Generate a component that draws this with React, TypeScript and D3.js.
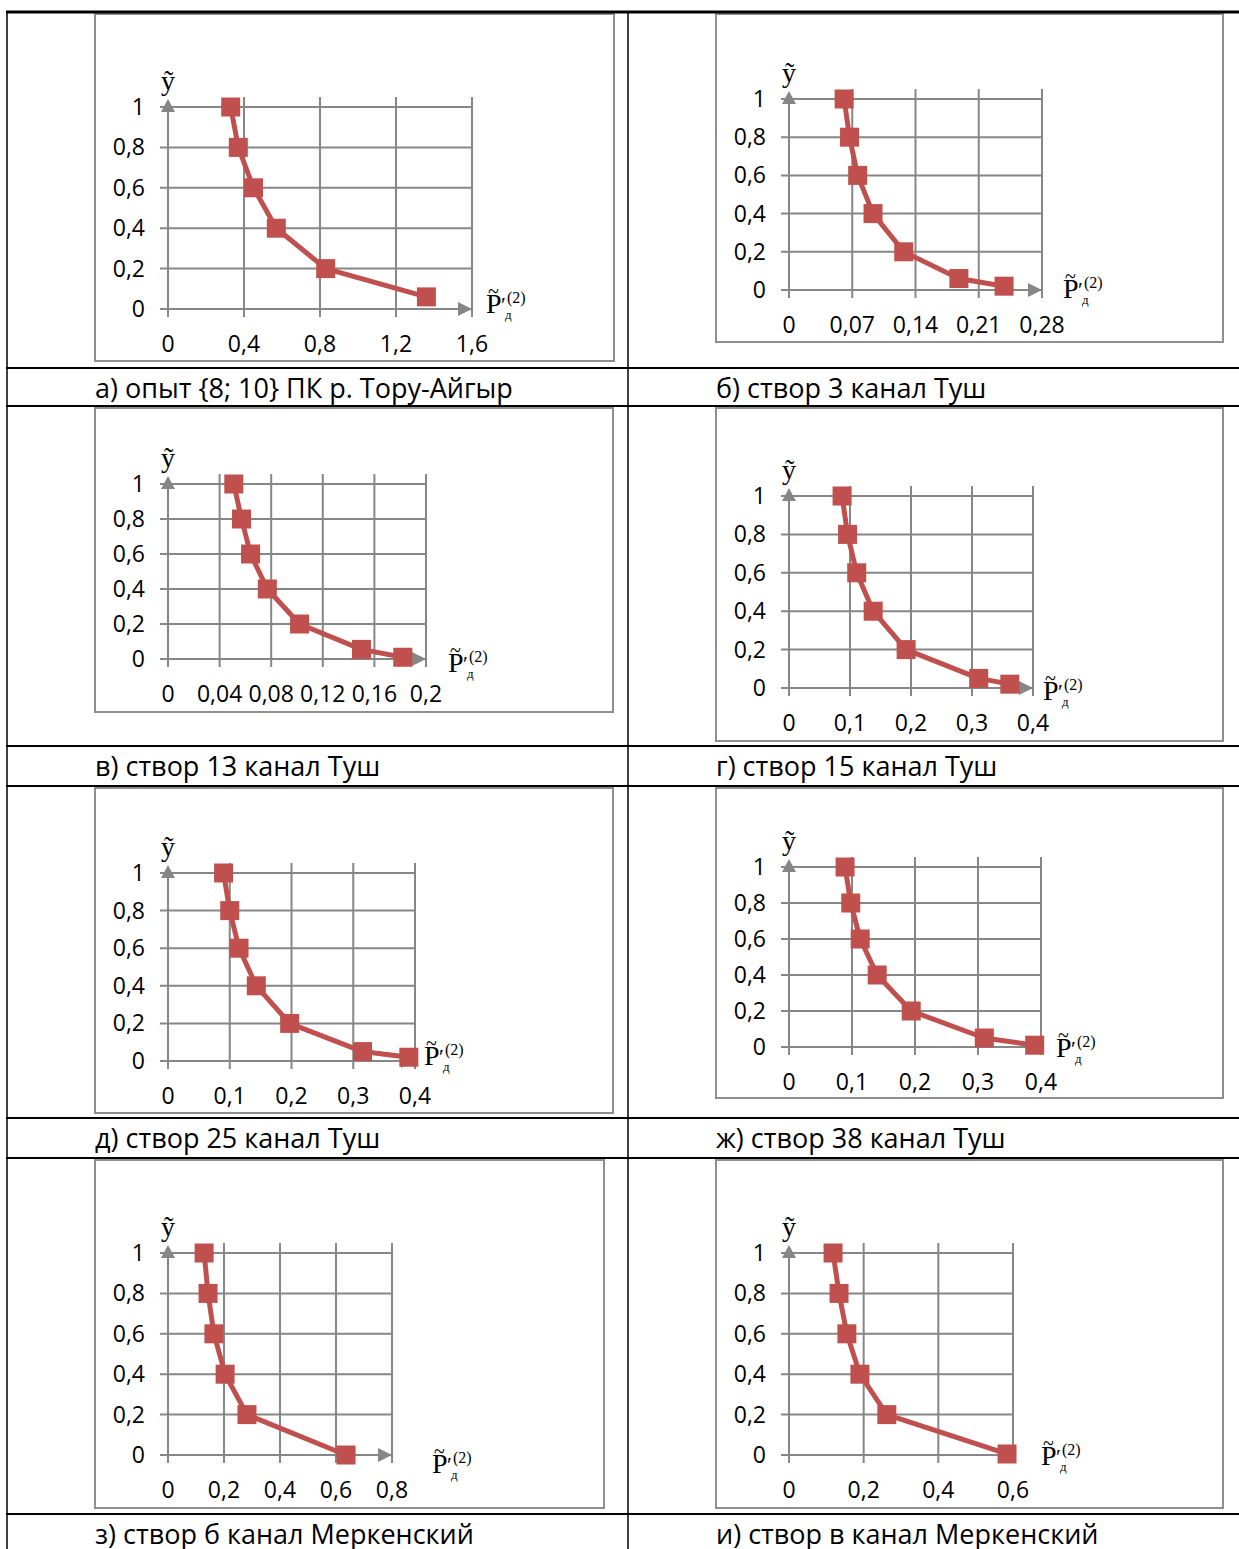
import React from 'react';
import * as d3 from 'd3';

const W = 1239;
const H = 1549;

const CAPTIONS = [
  'а) опыт {8; 10} ПК р. Тору-Айгыр',
  'б) створ 3 канал Туш',
  'в) створ 13 канал Туш',
  'г) створ 15 канал Туш',
  'д) створ 25 канал Туш',
  'ж) створ 38 канал Туш',
  'з) створ б канал Меркенский',
  'и) створ в канал Меркенский',
];

const Y_TICKS = [0, 0.2, 0.4, 0.6, 0.8, 1];

const X_TICKS_A = [0, 0.4, 0.8, 1.2, 1.6];
const X_TICKS_B = [0, 0.07, 0.14, 0.21, 0.28];
const X_TICKS_V = [0, 0.04, 0.08, 0.12, 0.16, 0.2];
const X_TICKS_G = [0, 0.1, 0.2, 0.3, 0.4];
const X_TICKS_D = [0, 0.1, 0.2, 0.3, 0.4];
const X_TICKS_ZH = [0, 0.1, 0.2, 0.3, 0.4];
const X_TICKS_Z = [0, 0.2, 0.4, 0.6, 0.8];
const X_TICKS_I = [0, 0.2, 0.4, 0.6];

// P'д(2) values and relative depth y
const P_A = [0.33, 0.37, 0.45, 0.57, 0.83, 1.36];
const Y_A = [1, 0.8, 0.6, 0.4, 0.2, 0.06];
const P_B = [0.061, 0.067, 0.076, 0.093, 0.127, 0.188, 0.238];
const Y_B = [1, 0.8, 0.6, 0.4, 0.2, 0.06, 0.02];
const P_V = [0.051, 0.057, 0.064, 0.077, 0.102, 0.15, 0.182];
const Y_V = [1, 0.8, 0.6, 0.4, 0.2, 0.055, 0.01];
const P_G = [0.087, 0.096, 0.111, 0.138, 0.192, 0.311, 0.362];
const Y_G = [1, 0.8, 0.6, 0.4, 0.2, 0.05, 0.02];
const P_D = [0.09, 0.1, 0.115, 0.143, 0.197, 0.315, 0.39];
const Y_D = [1, 0.8, 0.6, 0.4, 0.2, 0.05, 0.02];
const P_ZH = [0.089, 0.098, 0.113, 0.14, 0.194, 0.31, 0.39];
const Y_ZH = [1, 0.8, 0.6, 0.4, 0.2, 0.05, 0.01];
const P_Z = [0.129, 0.143, 0.164, 0.204, 0.282, 0.636];
const Y_Z = [1, 0.8, 0.6, 0.4, 0.2, 0];
const P_I = [0.118, 0.134, 0.155, 0.19, 0.262, 0.584];
const Y_I = [1, 0.8, 0.6, 0.4, 0.2, 0.005];

// layout of each cell: frame box, plot edges, offset of the P label
const LAYOUT = [
  { box: [95, 14, 519, 347], x0: 168, xr: 472, y1: 107, y0: 309, lab: [14, 4] },
  { box: [716, 14, 507, 328], x0: 789, xr: 1042, y1: 99, y0: 290, lab: [21, 8] },
  { box: [95, 408, 518, 304], x0: 168, xr: 426, y1: 484, y0: 659, lab: [22, 13] },
  { box: [716, 408, 507, 333], x0: 789, xr: 1033, y1: 496, y0: 688, lab: [10, 12] },
  { box: [95, 788, 518, 325], x0: 168, xr: 415, y1: 873, y0: 1061, lab: [9, 4] },
  { box: [716, 788, 507, 310], x0: 789, xr: 1041, y1: 867, y0: 1047, lab: [15, 10] },
  { box: [95, 1160, 509, 348], x0: 168, xr: 392, y1: 1253, y0: 1455, lab: [40, 18] },
  { box: [716, 1160, 507, 348], x0: 789, xr: 1013, y1: 1253, y0: 1455, lab: [28, 10] },
];

const SERIES = [
  { ticks: X_TICKS_A, xs: P_A, ys: Y_A },
  { ticks: X_TICKS_B, xs: P_B, ys: Y_B },
  { ticks: X_TICKS_V, xs: P_V, ys: Y_V },
  { ticks: X_TICKS_G, xs: P_G, ys: Y_G },
  { ticks: X_TICKS_D, xs: P_D, ys: Y_D },
  { ticks: X_TICKS_ZH, xs: P_ZH, ys: Y_ZH },
  { ticks: X_TICKS_Z, xs: P_Z, ys: Y_Z },
  { ticks: X_TICKS_I, xs: P_I, ys: Y_I },
];

const ROW_LINES = [368, 406, 746, 786, 1118, 1158, 1514];
const CAPTION_BASE = [398, 776, 1148, 1544];

const GRID = '#868686';
const RED = '#C0504D';
const SANS = '"Open Sans", sans-serif';
const SERIF = '"Liberation Serif", "Times New Roman", serif';

const fmt = (v: number) => String(v).replace('.', ',');

function Panel({ idx }: { idx: number }) {
  const L = LAYOUT[idx];
  const S = SERIES[idx];
  const xMax = S.ticks[S.ticks.length - 1];
  const x = d3.scaleLinear().domain([0, xMax]).range([L.x0, L.xr]);
  const y = d3.scaleLinear().domain([0, 1]).range([L.y0, L.y1]);
  const pts = S.xs.map((v, i) => [x(v), y(S.ys[i])] as [number, number]);
  const path = d3.line()(pts) || '';
  const [bx, by, bw, bh] = L.box;
  const lx = L.xr + L.lab[0];
  const ly = L.y0 + L.lab[1];
  const ms = 19;

  return (
    <g>
      <rect x={bx} y={by} width={bw} height={bh} fill="none" stroke="#8f8f8f" strokeWidth={2} />
      {/* horizontal grid */}
      {Y_TICKS.map((t) => (
        <line key={'h' + t} x1={L.x0 - 8} x2={L.xr} y1={y(t)} y2={y(t)} stroke={GRID} strokeWidth={2} />
      ))}
      {/* vertical grid */}
      {S.ticks.filter((t) => t > 0).map((t) => (
        <line key={'v' + t} x1={x(t)} x2={x(t)} y1={L.y1 - 10} y2={L.y0 + 8} stroke={GRID} strokeWidth={2} />
      ))}
      {/* axes with arrows */}
      <line x1={L.x0} x2={L.x0} y1={L.y0 + 8} y2={L.y1} stroke={GRID} strokeWidth={2} />
      <path d={`M${L.x0},${L.y1 - 8}L${L.x0 - 7},${L.y1 + 5}L${L.x0 + 7},${L.y1 + 5}Z`} fill={GRID} />
      <path d={`M${L.xr},${L.y0}L${L.xr - 14},${L.y0 - 7}L${L.xr - 14},${L.y0 + 7}Z`} fill={GRID} />
      {/* tick labels */}
      {Y_TICKS.map((t) => (
        <text key={'yl' + t} x={L.x0 - 23} y={y(t) + 8} textAnchor="end" fontFamily={SANS} fontSize={23} fill="#000">
          {fmt(t)}
        </text>
      ))}
      {S.ticks.map((t) => (
        <text key={'xl' + t} x={x(t)} y={L.y0 + 43} textAnchor="middle" fontFamily={SANS} fontSize={23} fill="#000">
          {fmt(t)}
        </text>
      ))}
      {/* series */}
      <path d={path} fill="none" stroke={RED} strokeWidth={5} strokeLinejoin="round" />
      {pts.map(([px, py], i) => (
        <rect key={'m' + i} x={px - ms / 2} y={py - ms / 2} width={ms} height={ms} fill={RED} />
      ))}
      {/* axis titles */}
      <text x={L.x0} y={L.y1 - 17} textAnchor="middle" fontFamily={SERIF} fontSize={28} fill="#000">ỹ</text>
      <text fontFamily={SERIF} fill="#000">
        <tspan x={lx} y={ly} fontSize={28}>P</tspan>
        <tspan x={lx + 2} y={ly - 15} fontSize={20}>~</tspan>
        <tspan x={lx + 15} y={ly - 1} fontSize={22}>′</tspan>
        <tspan x={lx + 21} y={ly - 10} fontSize={16}>(2)</tspan>
        <tspan x={lx + 19} y={ly + 6} fontSize={13}>д</tspan>
      </text>
    </g>
  );
}

export default function App() {
  return (
    <svg
      width={W}
      height={H}
      viewBox={`0 0 ${W} ${H}`}
      style={{ position: 'absolute', left: 0, top: 0, background: '#fff' }}
    >
      <rect width={W} height={H} fill="#fff" />
      {LAYOUT.map((_, i) => (
        <Panel key={i} idx={i} />
      ))}
      {/* table */}
      <line x1={6} x2={W} y1={12} y2={12} stroke="#000" strokeWidth={3} />
      {ROW_LINES.map((ry) => (
        <line key={ry} x1={6} x2={W} y1={ry} y2={ry} stroke="#000" strokeWidth={2} />
      ))}
      <line x1={7} x2={7} y1={11} y2={H} stroke="#000" strokeWidth={1.5} />
      <line x1={628} x2={628} y1={11} y2={H} stroke="#000" strokeWidth={1.5} />
      {CAPTIONS.map((c, i) => (
        <text
          key={c}
          x={i % 2 === 0 ? 95 : 716}
          y={CAPTION_BASE[Math.floor(i / 2)]}
          fontFamily={SANS}
          fontSize={27}
          fill="#000"
        >
          {c}
        </text>
      ))}
    </svg>
  );
}
